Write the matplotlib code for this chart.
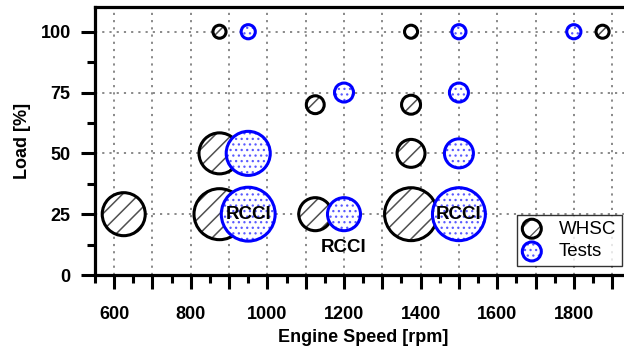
import matplotlib
matplotlib.use("Agg")
import matplotlib.pyplot as plt
import numpy as np
from matplotlib.ticker import MultipleLocator

plt.rcParams['font.family'] = ['Liberation Sans', 'DejaVu Sans']

# WHSC operating points: speed [rpm], load [%], weight (bubble area)
whsc_speed = [625, 875, 875, 875, 1125, 1125, 1375, 1375, 1375, 1375, 1875]
whsc_load = [25, 100, 50, 25, 70, 25, 100, 70, 50, 25, 100]
whsc_weight = [18.5, 1.7, 16.8, 26, 3.2, 10.9, 1.7, 3.6, 7.8, 28, 1.7]

# Tested operating points
test_speed = [950, 950, 950, 1200, 1200, 1500, 1500, 1500, 1500, 1800]
test_load = [100, 50, 25, 75, 25, 100, 75, 50, 25, 100]
test_weight = [2.0, 19.4, 29, 3.6, 10.9, 2.0, 3.6, 8.4, 28, 2.0]

# RCCI annotations
rcci_speed = [950, 1200, 1500]
rcci_load = [25, 11.5, 25]

DPI = 100
SCALE = 51.84  # weight -> marker area in pt^2
LEG_W = 3.6

fig = plt.figure(figsize=(6.24, 3.47), dpi=DPI)
ax = fig.add_axes([95 / 624, 72 / 347, 536.3 / 624, 267.6 / 347])

ax.set_xlim(550, 1950)
ax.set_ylim(0, 110)

ax.xaxis.set_minor_locator(MultipleLocator(50))
ax.yaxis.set_minor_locator(MultipleLocator(12.5))
ax.set_yticks([0, 25, 50, 75, 100])
ax.set_yticklabels(['0', '25', '50', '75', '100'])
xt = np.arange(600, 1901, 100)
ax.set_xticks(xt)
ax.set_xticklabels([str(v) if v % 200 == 0 else '' for v in xt])

ax.grid(True, which='major', color='#808080', linestyle=(0, (1.2, 2.8)), linewidth=1.3)
ax.set_axisbelow(True)

for sp in ax.spines.values():
    sp.set_linewidth(2.3)
ax.tick_params(which='major', length=10, width=2.2, labelsize=13)
ax.tick_params(axis='x', which='major', pad=12.3)
ax.tick_params(axis='y', which='major', pad=7.5)
ax.tick_params(which='minor', length=6, width=2.2)
for lbl in ax.get_xticklabels() + ax.get_yticklabels():
    lbl.set_fontweight('bold')

s_w = np.array(whsc_weight) * SCALE
s_t = np.array(test_weight) * SCALE


def whsc_layers(x, y, s):
    plt.rcParams['hatch.linewidth'] = 1.1
    a = ax.scatter(x, y, s=s, facecolor='white', edgecolor='#505050',
                   hatch='//', linewidths=1.0, zorder=3)
    b = ax.scatter(x, y, s=s, facecolor='none', edgecolor='black',
                   linewidths=2.2, zorder=4)
    return a, b


def test_layers(x, y, s):
    plt.rcParams['hatch.linewidth'] = 0.9
    a = ax.scatter(x, y, s=s, facecolor='white', edgecolor='#5a5aff',
                   hatch='...', linewidths=1.0, zorder=5)
    b = ax.scatter(x, y, s=s, facecolor='none', edgecolor='#0000ff',
                   linewidths=2.2, zorder=6)
    return a, b


whsc_layers(whsc_speed, whsc_load, s_w)
test_layers(test_speed, test_load, s_t)

for xs, ys in zip(rcci_speed, rcci_load):
    ax.text(xs, ys, 'RCCI', ha='center', va='center', fontsize=13.5,
            fontweight='bold', zorder=7)

ax.set_xlabel('Engine Speed [rpm]', fontsize=13, fontweight='bold', labelpad=4)
ax.set_ylabel('Load [%]', fontsize=13, fontweight='bold', labelpad=7)

# legend proxies
hw = whsc_layers([], [], LEG_W * SCALE)
ht = test_layers([], [], LEG_W * SCALE)
leg = ax.legend([hw, ht], ['WHSC', 'Tests'], loc='lower right',
                bbox_to_anchor=(622 / 624, 81 / 347), bbox_transform=fig.transFigure,
                fontsize=13.5, frameon=True, fancybox=False, borderaxespad=0,
                handlelength=1.0, handletextpad=0.95, borderpad=0.3,
                labelspacing=0.3, scatterpoints=1)
leg.get_frame().set_edgecolor('black')
leg.get_frame().set_linewidth(1.0)
leg.set_zorder(10)

fig.savefig('out.png', dpi=DPI)
